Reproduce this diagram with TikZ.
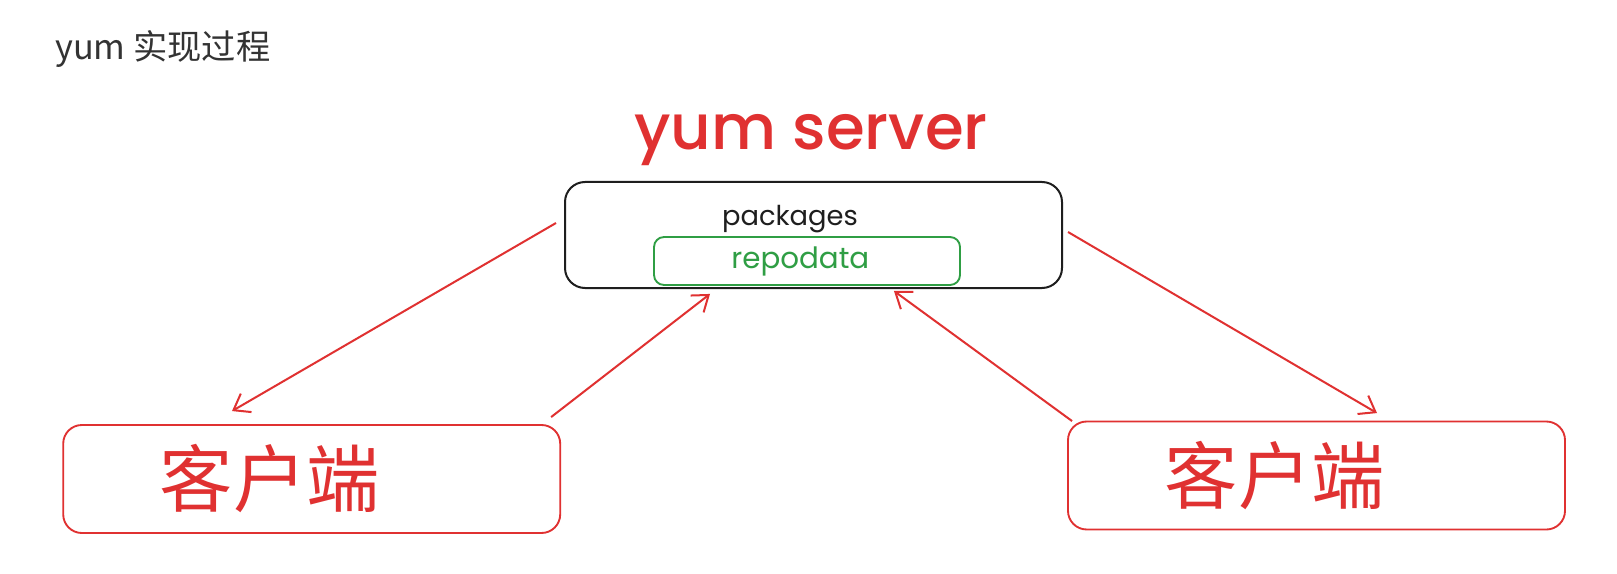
\documentclass[tikz,border=0pt]{standalone}
\usepackage{fontspec}
\setmainfont{Poppins}
\newfontfamily\cjk{Noto Sans CJK SC}
\newfontfamily\hand{Poppins}
\newfontfamily\handmid{Poppins}[UprightFont={* Medium}]
\usetikzlibrary{arrows.meta,calc}
\definecolor{exred}{HTML}{E03131}
\definecolor{exgreen}{HTML}{2F9E44}
\definecolor{exblack}{HTML}{1E1E1E}
\definecolor{titlegray}{HTML}{333333}
\begin{document}
\begin{tikzpicture}[x=0.75pt,y=-0.75pt,
  serverbox/.style={draw=exblack,line width=1.5pt,rounded corners=15pt,minimum width=372.75pt,minimum height=79.5pt,inner sep=0pt},
  repobox/.style={draw=exgreen,line width=1.4pt,rounded corners=7.5pt,minimum width=229.5pt,minimum height=36pt,inner sep=0pt,text=exgreen,font=\hand\fontsize{22}{26}\selectfont},
  clientbox/.style={draw=exred,line width=1.4pt,rounded corners=14pt,minimum height=81pt,inner xsep=72.5pt,inner ysep=0pt,text width=227.75pt,align=left,text=exred,font=\cjk\fontsize{55}{62}\selectfont},
  flow/.style={draw=exred,line width=1.5pt,-{Straight Barb[length=11pt,width=16pt,line width=1.5pt]}},
  pkgtext/.style={text=exblack,font=\hand\fontsize{20.5}{24}\selectfont,inner sep=0pt},
  titletext/.style={text=titlegray,font=\cjk\fontsize{25.7}{30}\selectfont,inner sep=0pt},
  servertitle/.style={text=exred,font=\handmid\fontsize{47}{56}\selectfont,inner sep=0pt}]
\useasboundingbox[fill=white] (0,0) rectangle (1617,574);

\node[titletext,anchor=base west] (title) at (55,60) {yum 实现过程};
\node[servertitle,anchor=base] (stitle) at (811,150) {yum server};

\node[serverbox] (server) at (813.5,235) {};
\node[pkgtext,anchor=base] (pkg) at (790,225) {packages};
\node[repobox] (repo) at (807,261) {\raisebox{-4pt}{repodata}\kern10pt};

\node[clientbox] (c1) at (311.7,479) {客户端};
\node[clientbox] (c2) at (1316.5,475.5) {客户端};

\draw[flow] ([shift={(-8,-12)}]server.west) -- ([shift={(-79.7,-13)}]c1.north);
\draw[flow] ([shift={(-10,-7)}]c1.north east) -- ([shift={(-97,8)}]repo.south);
\draw[flow] ([shift={(5,0.5)}]c2.north west) -- ([shift={(-67,5)}]repo.south east);
\draw[flow] ([shift={(5,-3)}]server.east) -- ([shift={(60.5,-7.5)}]c2.north);
\end{tikzpicture}
\end{document}
